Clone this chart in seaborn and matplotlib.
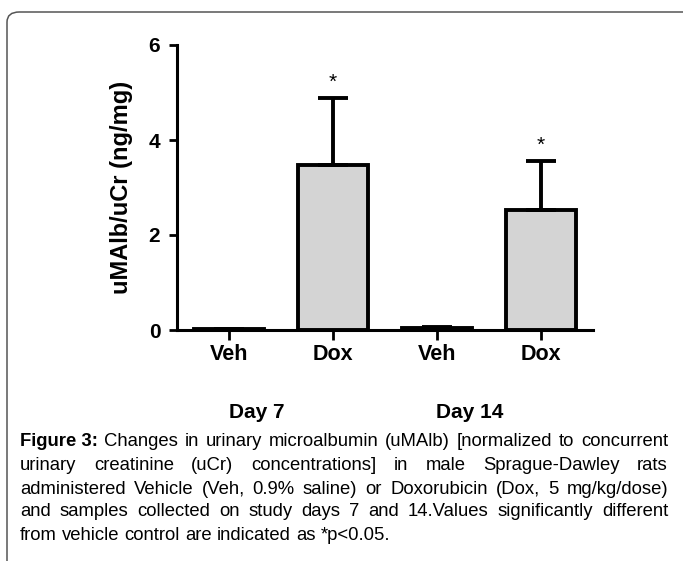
import matplotlib
matplotlib.use("Agg")
import matplotlib.pyplot as plt
import seaborn as sns
import pandas as pd
import numpy as np
from matplotlib.patches import FancyBboxPatch

groups = ["Veh d7", "Dox d7", "Veh d14", "Dox d14"]
tick_labels = ["Veh", "Dox", "Veh", "Dox"]
means = [0.02, 3.47, 0.05, 2.52]
sems = [0.01, 1.42, 0.02, 1.04]
bar_colors = ["#ffffff", "#d4d4d4", "#ffffff", "#d4d4d4"]
significant = [False, True, False, True]
day_labels = ["Day 7", "Day 14"]
y_ticks = [0, 2, 4, 6]
y_label = "uMAlb/uCr (ng/mg)"
caption_lines = [
    "Changes in urinary microalbumin (uMAlb) [normalized to concurrent",
    "urinary creatinine (uCr) concentrations] in male Sprague-Dawley rats",
    "administered Vehicle (Veh, 0.9% saline) or Doxorubicin (Dox, 5 mg/kg/dose)",
    "and samples collected on study days 7 and 14.Values significantly different",
    "from vehicle control are indicated as *p<0.05.",
]
caption_bold = "Figure 3:"

sns.set_style("ticks")
plt.rcParams["font.family"] = ["Liberation Sans", "DejaVu Sans"]
for key in ["text.color", "axes.labelcolor", "xtick.color", "ytick.color", "axes.edgecolor"]:
    plt.rcParams[key] = "black"

W, H = 683, 561
fig = plt.figure(figsize=(W / 100, H / 100), dpi=100)

def fx(px):
    return px / W

def fy(py):
    return 1 - py / H

# outer rounded frame
frame = FancyBboxPatch((fx(7), fy(600)), fx(720) - fx(7), fy(12) - fy(600),
                       boxstyle="round,pad=0,rounding_size=0.018",
                       transform=fig.transFigure, fill=False,
                       edgecolor="#555555", linewidth=1.1)
fig.patches.append(frame)

ax = fig.add_axes([fx(177), fy(330), fx(593) - fx(177), fy(45) - fy(330)])
df = pd.DataFrame({"group": groups, "value": means})
sns.barplot(data=df, x="group", y="value", hue="group", palette=bar_colors,
            edgecolor="black", linewidth=2.8, width=0.67, errorbar=None,
            legend=False, ax=ax, saturation=1)
xpos = np.arange(len(groups))
ax.errorbar(xpos, means, yerr=[np.zeros(len(sems)), sems], fmt="none",
            ecolor="black", elinewidth=2.8, capsize=11, capthick=2.8, zorder=3)
for x, m, s, sig in zip(xpos, means, sems, significant):
    if sig:
        ax.text(x, m + s + 0.12, "*", ha="center", va="bottom",
                fontsize=15)

ax.set_xlim(-0.5, 3.5)
ax.set_ylim(0, 6)
ax.set_yticks(y_ticks)
ax.set_yticklabels([str(t) for t in y_ticks], fontsize=15, fontweight="bold")
ax.set_xticks(xpos)
ax.set_xticklabels(tick_labels, fontsize=15.5, fontweight="bold")
ax.set_xlabel("")
ax.set_ylabel(y_label, fontsize=17, fontweight="bold", labelpad=11)
for side in ["top", "right"]:
    ax.spines[side].set_visible(False)
for side in ["left", "bottom"]:
    ax.spines[side].set_linewidth(2.2)
ax.tick_params(axis="both", width=2.0, length=6, pad=6)
ax.tick_params(axis="x", length=7, pad=3)

# day labels
fig.text(fx(257), fy(413), day_labels[0], ha="center", va="center",
         fontsize=15, fontweight="bold")
fig.text(fx(470), fy(413), day_labels[1], ha="center", va="center",
         fontsize=15, fontweight="bold")

# caption, justified
cap_font = ["Liberation Sans Narrow", "Liberation Sans", "DejaVu Sans"]
cap_size = 13.3
left_px, right_px = 20, 668
line_y = [442, 466, 489, 512, 535]
fig.canvas.draw()
renderer = fig.canvas.get_renderer()

def width_px(t):
    bb = t.get_window_extent(renderer=renderer)
    return bb.width

for i, (line, ly) in enumerate(zip(caption_lines, line_y)):
    words = line.split(" ")
    items = []
    if i == 0:
        items.append((caption_bold, "bold"))
    items += [(w, "normal") for w in words]
    texts = []
    for w, wt in items:
        t = fig.text(0, fy(ly), w, fontsize=cap_size, fontweight=wt,
                     family=cap_font, ha="left", va="center")
        texts.append(t)
    widths = [width_px(t) for t in texts]
    space = fig.text(0, 0, "a a", fontsize=cap_size, family=cap_font)
    sp = width_px(space) - 2 * width_px(fig.text(0, 0, "a", fontsize=cap_size, family=cap_font))
    for t in fig.texts[-2:]:
        t.remove()
    if i < len(caption_lines) - 1:
        gap = (right_px - left_px - sum(widths)) / (len(texts) - 1)
    else:
        gap = sp
    x = left_px
    for t, w in zip(texts, widths):
        t.set_x(fx(x))
        x += w + gap

fig.savefig("out.png", dpi=100)
